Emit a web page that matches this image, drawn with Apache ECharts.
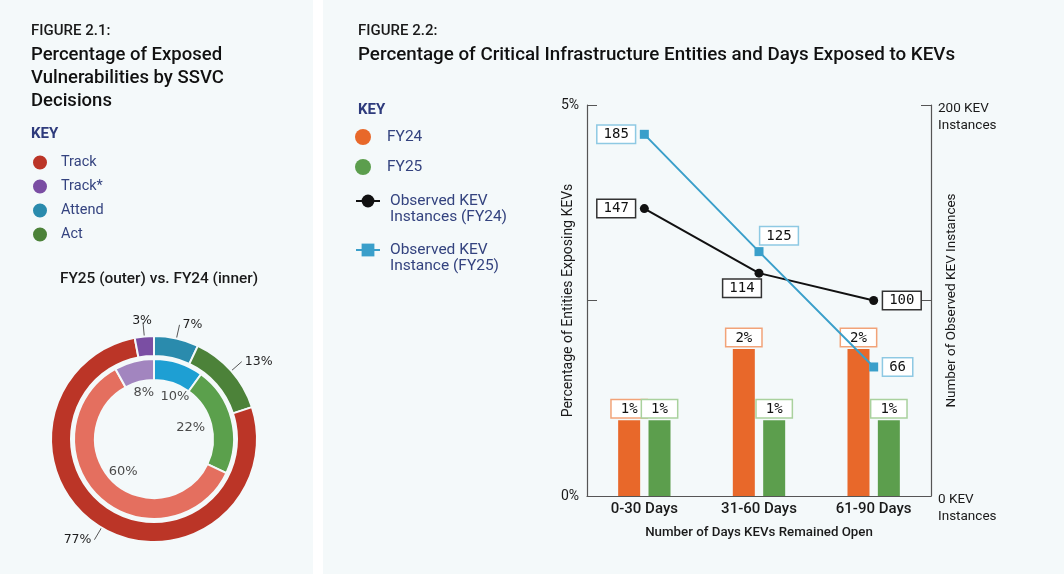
<!DOCTYPE html>
<html>
<head>
<meta charset="utf-8">
<title>Figures 2.1 and 2.2</title>
<script src="https://cdn.jsdelivr.net/npm/echarts@6/dist/echarts.min.js"></script>
<style>
    html, body { margin: 0; padding: 0; background: #fff; }
    #wrap { position: relative; width: 1064px; height: 574px; }
    .panel { position: absolute; top: 0; height: 574px; background: #f4f9fa; }
    #main { position: absolute; left: 0; top: 0; width: 1064px; height: 574px; }
</style>
</head>
<body>
<div id="wrap">
    <div class="panel" style="left:0;width:313px"></div>
    <div class="panel" style="left:323px;width:741px"></div>
    <div id="main"></div>
</div>
<script>
// figure 2.1 - SSVC decisions, clockwise from 12 o'clock
var ssvc_names = ['Attend', 'Act', 'Track', 'Track*'];
var ssvc_fy25 = [7, 13, 77, 3];
var ssvc_fy24 = [10, 22, 60, 8];
var ssvc_key = ['Track', 'Track*', 'Attend', 'Act'];

// figure 2.2 - days KEVs remained open
var day_groups = ['0-30 Days', '31-60 Days', '61-90 Days'];
var pct_fy24 = [0.97, 1.88, 1.88];
var pct_fy25 = [0.97, 0.97, 0.97];
var kev_fy24 = [147, 114, 100];
var kev_fy25 = [185, 125, 66];

var font = 'Roboto, "Liberation Sans", sans-serif';
var mono = '"DejaVu Sans Mono", monospace';
var navy = '#34437f';

var outer_colors = {'Track': '#bb3527', 'Track*': '#7a4ea3', 'Attend': '#2a8bad', 'Act': '#4c8239'};
var inner_colors = {'Track': '#e46f5f', 'Track*': '#a285bf', 'Attend': '#1e9fd3', 'Act': '#5ba04c'};

// small nudges for the ring labels
var outer_nudge = {'Track*': [12, -2]};
var inner_nudge = {'Attend': [7, 0], 'Act': [-7, 0], 'Track*': [1, -3]};

function ring_data(values, colors, nudge) {
    return ssvc_names.map(function (n, i) {
        var item = {name: n, value: values[i]};
        if (colors) item.itemStyle = {color: colors[n]};
        if (nudge && nudge[n]) item.label = {offset: nudge[n]};
        return item;
    });
}

// where each line label sits around its point
var kev24_place = [{position: 'left'}, {position: 'bottom', offset: [-17, -3]}, {position: 'right'}];
var kev25_place = [{position: 'left'}, {position: 'top', offset: [20, 2]}, {position: 'right'}];

function line_data(values, place) {
    return values.map(function (v, i) {
        return {value: v, label: place[i]};
    });
}

function box_label(border, padX) {
    return {
        show: true,
        fontFamily: mono,
        fontSize: 14,
        color: '#111',
        backgroundColor: '#fff',
        borderColor: border,
        borderWidth: 1.5,
        padding: [2, padX, 1, padX]
    };
}

var chart = echarts.init(document.getElementById('main'));

var option = {
    backgroundColor: 'transparent',
    animation: false,
    textStyle: {fontFamily: font},
    title: [
        {text: 'FIGURE 2.1:', left: 31, top: 24, padding: 0,
            textStyle: {fontSize: 15, fontWeight: 500, color: '#1a1a1a', lineHeight: 14}},
        {text: 'Percentage of Exposed\nVulnerabilities by SSVC\nDecisions', left: 31, top: 44, padding: 0,
            textStyle: {fontSize: 18.5, fontWeight: 500, color: '#111', lineHeight: 23}},
        {text: 'KEY', left: 31, top: 126, padding: 0,
            textStyle: {fontSize: 15, fontWeight: 'bold', color: '#2e3b7c', lineHeight: 16}},
        {text: 'FY25 (outer) vs. FY24 (inner)', left: 159, textAlign: 'center', top: 271, padding: 0,
            textStyle: {fontSize: 15.4, fontWeight: 500, color: '#1a1a1a', lineHeight: 16}},
        {text: 'FIGURE 2.2:', left: 358, top: 24, padding: 0,
            textStyle: {fontSize: 15, fontWeight: 500, color: '#1a1a1a', lineHeight: 14}},
        {text: 'Percentage of Critical Infrastructure Entities and Days Exposed to KEVs', left: 358, top: 44, padding: 0,
            textStyle: {fontSize: 18.8, fontWeight: 500, color: '#111', lineHeight: 23}},
        {text: 'KEY', left: 358, top: 102, padding: 0,
            textStyle: {fontSize: 15, fontWeight: 'bold', color: '#2e3b7c', lineHeight: 16}}
    ],
    legend: [
        {
            data: ssvc_key, orient: 'vertical', left: 31, top: 153.5, padding: 0,
            itemWidth: 16, itemHeight: 16, itemGap: 6, icon: 'circle', selectedMode: false,
            textStyle: {fontSize: 14.5, color: navy, lineHeight: 16, padding: [0, 0, 0, 8]}
        },
        {
            data: ['FY24', 'FY25'], orient: 'vertical', left: 355, top: 129, padding: 0,
            itemWidth: 24, itemHeight: 16, itemGap: 14, icon: 'circle', selectedMode: false,
            textStyle: {fontSize: 15.5, color: navy, lineHeight: 16, padding: [0, 0, 0, 7]}
        },
        {
            data: ['Observed KEV Instances (FY24)', 'Observed KEV Instance (FY25)'],
            orient: 'vertical', left: 355, top: 177, padding: 0,
            itemWidth: 24, itemHeight: 16, itemGap: 1, selectedMode: false,
            formatter: function (name) {
                return '\n' + name.replace(' KEV ', ' KEV\n');
            },
            textStyle: {fontSize: 15.5, color: navy, lineHeight: 16, padding: [0, 0, 0, 5]}
        }
    ],
    grid: {left: 587, right: 133, top: 105, bottom: 78},
    xAxis: {
        type: 'category',
        data: day_groups,
        axisLine: {lineStyle: {color: '#555', width: 1.2}},
        axisTick: {show: false},
        axisLabel: {fontSize: 15, fontWeight: 500, color: '#1a1a1a', margin: 6},
        name: 'Number of Days KEVs Remained Open',
        nameLocation: 'middle',
        nameGap: 30,
        nameMoveOverlap: false,
        nameTextStyle: {fontSize: 13.3, fontWeight: 500, color: '#1a1a1a'}
    },
    yAxis: [
        {
            type: 'value', min: 0, max: 5, interval: 2.5,
            splitLine: {show: false},
            axisLine: {show: true, lineStyle: {color: '#555', width: 1.2}},
            axisTick: {show: true, inside: true, length: 10, lineStyle: {color: '#555'}},
            axisLabel: {
                fontSize: 14, color: '#1a1a1a', margin: 8,
                formatter: function (v) { return (v === 0 || v === 5) ? v + '%' : ''; }
            },
            name: 'Percentage of Entities Exposing KEVs',
            nameLocation: 'middle', nameRotate: 90, nameGap: 12, nameMoveOverlap: false,
            nameTextStyle: {fontSize: 14, color: '#1a1a1a'}
        },
        {
            type: 'value', min: 0, max: 200, interval: 100, position: 'right',
            splitLine: {show: false},
            axisLine: {show: true, lineStyle: {color: '#555', width: 1.2}},
            axisTick: {show: true, inside: true, length: 10, lineStyle: {color: '#555'}},
            axisLabel: {
                color: '#1a1a1a', margin: 7, align: 'left',
                formatter: function (v) {
                    return v === 100 ? '' : '{e| }\n{t|' + v + ' KEV}\n{t|Instances}';
                },
                rich: {
                    e: {fontSize: 10, lineHeight: 24},
                    t: {fontSize: 13.5, lineHeight: 17, color: '#1a1a1a'}
                }
            },
            name: 'Number of Observed KEV Instances',
            nameLocation: 'middle', nameRotate: 90, nameGap: 14, nameMoveOverlap: false,
            nameTextStyle: {fontSize: 13.5, color: '#1a1a1a'}
        }
    ],
    series: [
        {
            name: 'ssvc_outer', type: 'pie', silent: true,
            center: [154, 439], radius: [83, 103], startAngle: 90,
            avoidLabelOverlap: false,
            data: ring_data(ssvc_fy25, outer_colors, outer_nudge),
            itemStyle: {borderColor: '#f4f9fa', borderWidth: 2},
            label: {formatter: '{c}%', fontFamily: '"DejaVu Sans", sans-serif', fontSize: 12.5, color: '#1e1e1e',
                distanceToLabelLine: 3},
            labelLine: {length: 14, length2: 0, lineStyle: {color: '#555', width: 1}}
        },
        {
            name: 'ssvc_inner', type: 'pie', silent: true,
            center: [154, 439], radius: [59, 80], startAngle: 90,
            data: ring_data(ssvc_fy24, inner_colors),
            itemStyle: {borderColor: '#f4f9fa', borderWidth: 2},
            label: {show: false},
            labelLine: {show: false}
        },
        {
            // inner ring labels sit in the hole
            name: 'ssvc_inner_labels', type: 'pie', silent: true,
            center: [154, 439], radius: [26, 58], startAngle: 90,
            data: ring_data(ssvc_fy24, null, inner_nudge),
            itemStyle: {color: 'rgba(0,0,0,0)', borderWidth: 0},
            label: {position: 'inside', formatter: '{c}%', fontFamily: '"DejaVu Sans", sans-serif',
                fontSize: 13, color: '#4a4a4a'},
            labelLine: {show: false}
        },
        {
            name: 'FY24', type: 'bar', yAxisIndex: 0,
            data: pct_fy24, barWidth: 22, barGap: '38%',
            itemStyle: {color: '#e8682a'},
            label: Object.assign(box_label('#f2a378', 9), {
                position: 'top', distance: 3,
                formatter: function (p) { return Math.round(p.value) + '%'; }
            })
        },
        {
            name: 'FY25', type: 'bar', yAxisIndex: 0,
            data: pct_fy25, barWidth: 22, barGap: '38%',
            itemStyle: {color: '#5c9e4d'},
            label: Object.assign(box_label('#a9d19d', 9), {
                position: 'top', distance: 3,
                formatter: function (p) { return Math.round(p.value) + '%'; }
            })
        },
        {
            name: 'Observed KEV Instances (FY24)', type: 'line', yAxisIndex: 1,
            data: line_data(kev_fy24, kev24_place),
            symbol: 'circle', symbolSize: 9,
            itemStyle: {color: '#111'},
            lineStyle: {color: '#111', width: 2},
            label: Object.assign(box_label('#333', 6), {distance: 5}),
            z: 4
        },
        {
            name: 'Observed KEV Instance (FY25)', type: 'line', yAxisIndex: 1,
            data: line_data(kev_fy25, kev25_place),
            symbol: 'rect', symbolSize: 9,
            itemStyle: {color: '#3a9fca'},
            lineStyle: {color: '#3a9fca', width: 2},
            label: Object.assign(box_label('#8ec9e3', 6), {distance: 5}),
            z: 4
        }
    ]
};

chart.setOption(option);
</script>
</body>
</html>
